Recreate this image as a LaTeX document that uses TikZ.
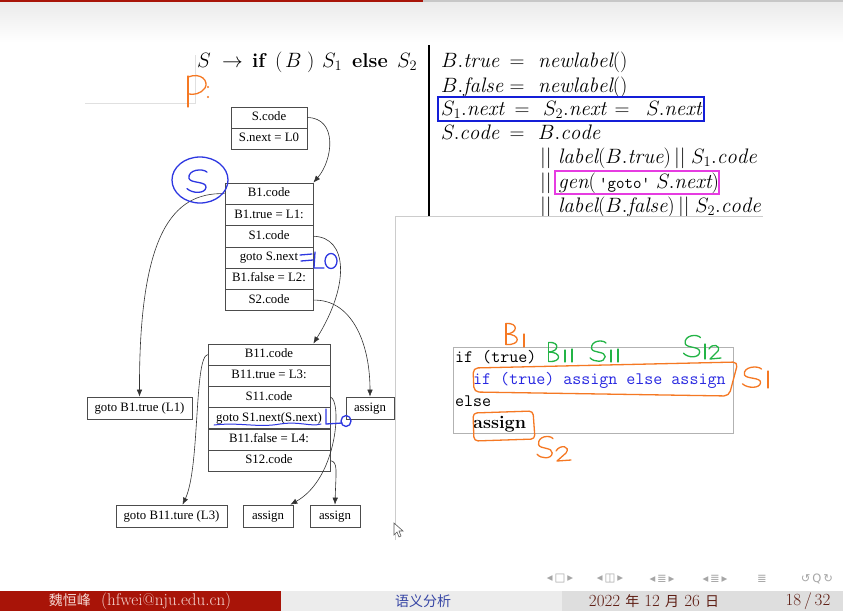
\documentclass[tikz,border=0pt]{standalone}
\usepackage{fontspec}
\newfontfamily\tmfont{Liberation Serif}
\newfontfamily\cjk{Noto Sans CJK SC}
\newfontfamily\symfont{DejaVu Sans}
\usetikzlibrary{arrows.meta}

\definecolor{hwblue}{RGB}{45,55,225}
\definecolor{hworange}{RGB}{245,120,35}
\definecolor{hwgreen}{RGB}{35,180,70}
\definecolor{boxblue}{RGB}{20,30,215}
\definecolor{boxmagenta}{RGB}{230,60,225}
\definecolor{codeblue}{RGB}{40,40,225}
\definecolor{footred}{RGB}{168,20,8}
\definecolor{footgrayA}{RGB}{236,236,236}
\definecolor{footgrayB}{RGB}{222,222,222}
\definecolor{foottitle}{RGB}{55,70,165}
\definecolor{footdate}{RGB}{95,30,20}
\definecolor{footauthor}{RGB}{245,215,210}

\newcommand{\zh}[1]{{\cjk\fontsize{14}{17}\selectfont #1}}

\tikzset{
  hwS/.pic={\draw (0.5,-0.42) .. controls (0.3,-0.62) and (-0.48,-0.55) .. (-0.4,-0.12)
             .. controls (-0.32,0.12) and (0.48,0.0) .. (0.45,0.3)
             .. controls (0.42,0.62) and (-0.25,0.6) .. (-0.5,0.36);},
  hwB/.pic={\draw (-0.4,-0.5) -- (-0.4,0.5);
            \draw (-0.4,-0.5) .. controls (0.45,-0.55) and (0.4,-0.02) .. (-0.4,0.0);
            \draw (-0.4,0.0) .. controls (0.6,0.0) and (0.6,0.55) .. (-0.4,0.5);},
}

\begin{document}
\begin{tikzpicture}[x=1pt,y=-1pt,
  rec/.style={draw=black!70, line width=0.7pt, minimum height=21.3pt, inner sep=0pt,
              text height=8.8pt, text depth=2.6pt,
              font=\tmfont\fontsize{12.8}{14}\selectfont},
  leaf/.style={rec, minimum height=22pt},
  flow/.style={-{Latex[length=7pt,width=5.5pt]}, line width=0.6pt, black!80},
  hw/.style={line width=1.3pt, line cap=round, line join=round},
  head/.style={anchor=base west, inner sep=0pt, font=\fontsize{20}{23}\selectfont},
  rule/.style={anchor=base west, inner sep=0pt, font=\fontsize{21}{24}\selectfont},
  code/.style={anchor=base west, inner sep=0pt, font=\ttfamily\fontsize{17.5}{20}\selectfont},
  foot/.style={anchor=center, inner sep=0pt, font=\fontsize{17}{19}\selectfont},
  navsym/.style={anchor=center, inner sep=0pt, text=black!35, font=\symfont\fontsize{11.5}{13}\selectfont},
]
\useasboundingbox (0,0) rectangle (843,611);
\fill[white] (0,0) rectangle (843,611);

% slide header strip
\shade[top color=black!8, bottom color=white] (0,2) rectangle (843,42);
\fill[footred] (0,0) rectangle (423,2);
\fill[black!22] (423,0) rectangle (843,2);

% faint frame lines on the left
\draw[black!12, line width=0.6pt] (85,103) -- (195,103) -- (195,55);

% production
\node[head] (h1) at (197,67) {$S$};
\node[head] (h2) at (222,67) {$\rightarrow$};
\node[head] (h3) at (252,67) {\textbf{if}};
\node[head] (h4) at (275,67) {$($};
\node[head] (h5) at (285,67) {$B$};
\node[head] (h6) at (307,67) {$)$};
\node[head] (h7) at (322,67) {$S_1$};
\node[head] (h8) at (352,67) {\textbf{else}};
\node[head] (h9) at (397,67) {$S_2$};

\draw[black, line width=1.5pt] (429,45) -- (429,216);

% semantic rules
\node[rule] (r1a) at (441,67) {$B.\mathit{true}$};
\node[rule, anchor=base] (r1b) at (517,67) {$=$};
\node[rule] (r1c) at (538,67) {$\mathit{newlabel}()$};
\node[rule] (r2a) at (441,92) {$B.\mathit{false}$};
\node[rule, anchor=base] (r2b) at (517,92) {$=$};
\node[rule] (r2c) at (538,92) {$\mathit{newlabel}()$};
\node[rule] (r3a) at (441,115) {$S_1.\mathit{next}$};
\node[rule, anchor=base] (r3b) at (522,115) {$=$};
\node[rule] (r3c) at (543,115) {$S_2.\mathit{next}$};
\node[rule, anchor=base] (r3d) at (622,115) {$=$};
\node[rule] (r3e) at (646,115) {$S.\mathit{next}$};
\node[rule] (r4a) at (441,139) {$S.\mathit{code}$};
\node[rule, anchor=base] (r4b) at (517,139) {$=$};
\node[rule] (r4c) at (538,139) {$B.\mathit{code}$};
\node[rule] (r5a) at (540,163) {$||$};
\node[rule] (r5b) at (558,163) {$\mathit{label}(B.\mathit{true})$};
\node[rule] (r5c) at (674,163) {$||$};
\node[rule] (r5d) at (691,163) {$S_1.\mathit{code}$};
\node[rule] (r6a) at (540,188) {$||$};
\node[rule] (r6b) at (558,188) {$\mathit{gen}($};
\node[rule, font=\ttfamily\fontsize{16.5}{20}\selectfont] (r6c) at (599,188) {'goto'};
\node[rule] (r6d) at (656,188) {$S.\mathit{next})$};
\node[rule] (r7a) at (540,212) {$||$};
\node[rule] (r7b) at (558,212) {$\mathit{label}(B.\mathit{false})$};
\node[rule] (r7c) at (678,212) {$||$};
\node[rule] (r7d) at (695,212) {$S_2.\mathit{code}$};

\draw[boxblue, line width=1.6pt] (438,97) rectangle (704,121);
\draw[boxmagenta, line width=1.4pt] (555,171) rectangle (719,194);

% code tree
\node[rec, minimum width=76pt] (a1) at (269,117.5) {S.code};
\node[rec, minimum width=76pt] (a2) at (269,138.8) {S.next = L0};

\foreach \t [count=\i] in {B1.code, B1.true = L1:, S1.code, goto S.next, B1.false = L2:, S2.code}
  \node[rec, minimum width=88pt] (b\i) at (269,{183+21.3*(\i-0.5)}) {\t};

\foreach \t [count=\i] in {B11.code, B11.true = L3:, S11.code, goto S1.next(S.next), B11.false = L4:, S12.code}
  \node[rec, minimum width=122pt] (c\i) at (269,{344+21.2*(\i-0.5)}) {\t};

\node[leaf, minimum width=105pt] (l1) at (139.5,408) {goto B1.true (L1)};
\node[leaf, minimum width=48pt] (s2a) at (370,408) {assign};
\node[leaf, minimum width=111pt] (l3) at (171.5,516) {goto B11.ture (L3)};
\node[leaf, minimum width=50pt] (s11a) at (268,516) {assign};
\node[leaf, minimum width=50pt] (s12a) at (335,516) {assign};

\draw[flow] (a1.east) .. controls (338,118) and (333,160) .. (b1.north east);
\draw[flow] (b1.west) .. controls (172,192) and (139,235) .. (l1.north);
\draw[flow] (b3.east) .. controls (348,237) and (350,285) .. ([xshift=-17pt]c1.north east);
\draw[flow] (b6.east) .. controls (350,299) and (370,340) .. (s2a.north);
\draw[flow] (c1.west) .. controls (194,357) and (200,468) .. ([xshift=11pt]l3.north);
\draw[flow] (c3.east) .. controls (342,400) and (338,478) .. ([xshift=-3pt]s11a.north east);
\draw[flow] (c6.east) .. controls (338,462) and (336,470) .. (s12a.north);

% handwritten notes on the tree
\draw[hw, hworange] (188,76) -- (188,107);
\draw[hw, hworange] (188,77) .. controls (201,72) and (209,81) .. (205,88) .. controls (201,94) and (193,95) .. (189,94);
\fill[hworange] (208,87) circle (1.1) (208,97) circle (1.1);

\draw[hw, hwblue] (200,180) ellipse [x radius=28, y radius=23];
\pic[hw, hwblue, xscale=20, yscale=21] at (197,181) {hwS};

\draw[hw, hwblue] (300,255) -- (312,254) (301,261) -- (313,260);
\draw[hw, hwblue] (315,252) -- (314,268) -- (324,268);
\draw[hw, hwblue] (331,261) ellipse [x radius=6, y radius=7.5];

\draw[hw, hwblue, line width=1pt] (214,425) .. controls (240,422) and (258,428) .. (280,424) .. controls (300,421) and (310,427) .. (321,424);
\draw[hw, hwblue] (326,409) -- (326,424) -- (342,423);
\draw[hw, hwblue] (346,421) ellipse [x radius=5, y radius=5.5];

% overlaid example panel
\fill[white] (395,216) rectangle (843,545);
\draw[black!20, line width=0.8pt] (395,540) -- (395,216) -- (763,216);

\draw[black!30, line width=0.7pt, fill=white] (453,347) rectangle (733,433);
\node[code] (k1) at (455,362) {if (true)};
\node[code, text=codeblue] (k2) at (473,384) {if (true) assign else assign};
\node[code] (k3) at (455,406.5) {else};
\node[anchor=base west, inner sep=0pt, font=\bfseries\fontsize{18}{20}\selectfont] (k4) at (473,428.5) {assign};

% handwritten notes on the example
\pic[hw, hworange, xscale=15, yscale=21] at (512,334) {hwB};
\draw[hw, hworange] (524,334) -- (524,347);
\draw[hw, hworange, rounded corners=5pt] (473,368) -- (738,362) -- (729,396) -- (474,392) -- cycle;
\pic[hw, hworange, xscale=19, yscale=19] at (752,377) {hwS};
\draw[hw, hworange] (768,371) -- (768,388);
\draw[hw, hworange, rounded corners=4pt] (473,413) -- (533,411) -- (535,439) -- (474,441) -- cycle;
\pic[hw, hworange, xscale=16, yscale=20] at (545,447) {hwS};
\draw[hw, hworange] (556,451) .. controls (560,444) and (571,446) .. (566,453) -- (557,461) -- (571,460);

\pic[hw, hwgreen, xscale=13, yscale=19] at (554,352) {hwB};
\draw[hw, hwgreen] (565,350) -- (565,362) (572,349) -- (572,362);
\pic[hw, hwgreen, xscale=16, yscale=19] at (598,351) {hwS};
\draw[hw, hwgreen] (611,350) -- (611,362) (618,349) -- (618,362);
\pic[hw, hwgreen, xscale=17, yscale=20] at (692,346) {hwS};
\draw[hw, hwgreen] (705,344) -- (705,359);
\draw[hw, hwgreen] (709,349) .. controls (712,343) and (721,345) .. (718,351) -- (710,359) -- (721,358);

% mouse pointer
\draw[black!65, fill=white, line width=0.6pt] (394,523) -- (394,535) -- (397,532) -- (399,537) -- (401,536) -- (399,531) -- (403,531) -- cycle;

% navigation symbols
\node[navsym] (nav1) at (560,579) {◂\,□\,▸};
\node[navsym] (nav2) at (610,579) {◂\,◫\,▸};
\node[navsym] (nav3) at (662,579) {◂\,≣\,▸};
\node[navsym] (nav4) at (715,579) {◂\,≣\,▸};
\node[navsym] (nav5) at (762,579) {≣};
\node[navsym] (nav6) at (817,579) {↺\,Q\,↻};

% footline
\fill[footred] (0,591) rectangle (281,611);
\fill[footgrayA] (281,591) rectangle (562,611);
\fill[footgrayB] (562,591) rectangle (843,611);
\node[foot, text=footauthor] (author) at (140,601) {\zh{魏恒峰}\ \ (hfwei@nju.edu.cn)};
\node[foot, text=foottitle] (title) at (423,601) {\zh{语义分析}};
\node[foot, text=footdate] (date) at (654,601) {2022 \zh{年} 12 \zh{月} 26 \zh{日}};
\node[foot, text=footdate] (page) at (808,601) {18\,/\,32};
\end{tikzpicture}
\end{document}
